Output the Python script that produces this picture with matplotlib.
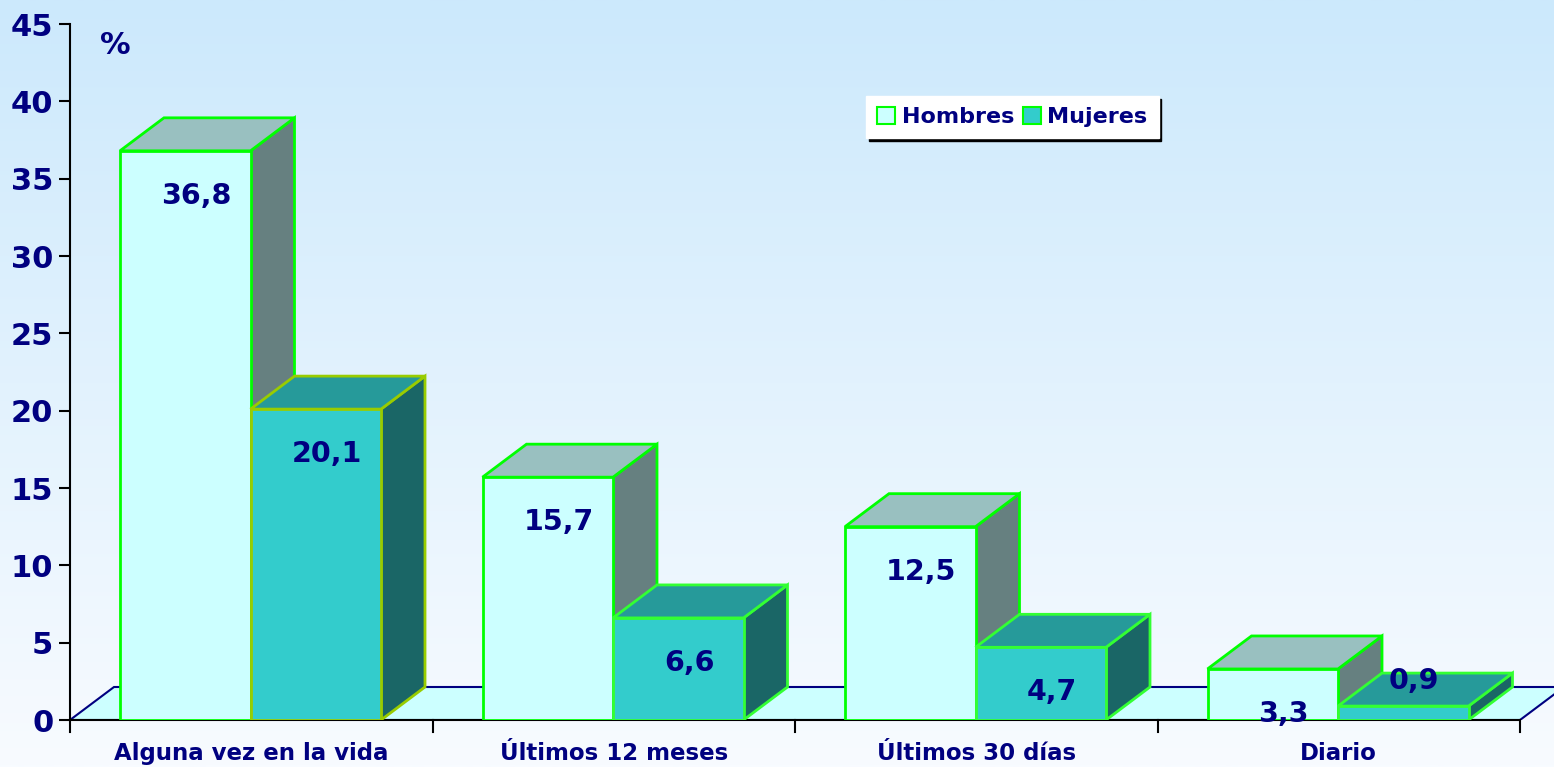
import numpy as np
import matplotlib
matplotlib.use("Agg")
import matplotlib.pyplot as plt
from matplotlib.patches import Polygon, Rectangle

categories = ["Alguna vez en la vida", "Últimos 12 meses", "Últimos 30 días", "Diario"]
series_names = ["Hombres", "Mujeres"]
hombres = [36.8, 15.7, 12.5, 3.3]
mujeres = [20.1, 6.6, 4.7, 0.9]
yticks = [0, 5, 10, 15, 20, 25, 30, 35, 40, 45]

NAVY = "#000080"
front_cols = ["#CCFFFF", "#33CCCC"]
top_cols = ["#99C0C0", "#269A9A"]
side_cols = ["#668080", "#1A6666"]

W, H = 1554, 767
fig = plt.figure(figsize=(W / 100, H / 100), dpi=100)

# background gradient
bg = fig.add_axes([0, 0, 1, 1], zorder=-10)
top = np.array([204, 233, 252]) / 255
bot = np.array([248, 251, 255]) / 255
t = np.linspace(0, 1, 256)[:, None]
grad = top[None, :] * (1 - t) + bot[None, :] * t
bg.imshow(grad[:, None, :], aspect="auto", extent=[0, 1, 0, 1])
bg.axis("off")

x0px, x1px, y0px, y1px = 70, 1554, 720, 24
cat_px = 362.5
ax = fig.add_axes([x0px / W, 1 - y0px / H, (x1px - x0px) / W, (y0px - y1px) / H])
ax.set_facecolor("none")
ax.set_xlim(0, (x1px - x0px) / cat_px)
ax.set_ylim(0, 45)

dx = 44 / cat_px
dy = 33 / ((y0px - y1px) / 45)
gap = 50 / cat_px
bw = 130.5 / cat_px
n = len(categories)

# floor
floor = Polygon([(0, 0), (dx, dy), (n + dx, dy), (n, 0)], closed=True,
                facecolor="#CCFFFF", edgecolor=NAVY, lw=1.5, zorder=1)
ax.add_patch(floor)
ax.plot([0, n], [0, 0], color="black", lw=1.5, zorder=2, clip_on=False)


def bar3d(x, h, i, ec):
    z = 3
    ax.add_patch(Polygon([(x + bw, 0), (x + bw + dx, dy), (x + bw + dx, h + dy), (x + bw, h)],
                         closed=True, fc=side_cols[i], ec=ec, lw=2, zorder=z))
    ax.add_patch(Polygon([(x, h), (x + dx, h + dy), (x + bw + dx, h + dy), (x + bw, h)],
                         closed=True, fc=top_cols[i], ec=ec, lw=2, zorder=z))
    ax.add_patch(Rectangle((x, 0), bw, h, fc=front_cols[i], ec=ec, lw=2, zorder=z))


for k in range(n):
    xh = k + gap
    xm = xh + bw
    bar3d(xh, hombres[k], 0, "#00FF00")
    bar3d(xm, mujeres[k], 1, "#99CC00" if k == 0 else "#33FF33")
    for xs, v in ((xh, hombres[k]), (xm, mujeres[k])):
        ly = v - 2.9 if v > 2 else v + 1.6
        ax.text(xs + bw / 2 + 0.03, ly, f"{v:.1f}".replace(".", ","),
                ha="center", va="center", color=NAVY, fontsize=20.5,
                fontweight="bold", zorder=10)

# axes styling
for s in ["top", "right", "bottom"]:
    ax.spines[s].set_visible(False)
ax.spines["left"].set_color("black")
ax.spines["left"].set_linewidth(1.5)
ax.set_yticks(yticks)
ax.set_yticklabels([str(v) for v in yticks])
ax.tick_params(axis="y", length=8, width=1.5, color="black", labelcolor=NAVY,
               labelsize=22, pad=4)
for lab in ax.get_yticklabels():
    lab.set_fontweight("bold")

ax.set_xticks([])
for k in range(n + 1):
    ax.plot([k, k], [0, -0.75], color="black", lw=1.5, clip_on=False, zorder=2)
for k, c in enumerate(categories):
    ax.text(k + 0.5, -1.45, c, ha="center", va="top", color=NAVY, fontsize=16.5,
            fontweight="bold", clip_on=False)

fig.text(115 / W, 1 - 45 / H, "%", ha="center", va="center", color=NAVY,
         fontsize=22, fontweight="bold")

# legend
handles = [Rectangle((0, 0), 1, 1, fc=front_cols[i], ec="#00FF00", lw=1.5) for i in range(2)]
leg = fig.legend(handles, series_names, loc="upper left",
                 bbox_to_anchor=(866 / W, 1 - 96 / H), ncol=2, frameon=True,
                 fancybox=False, shadow={"color": "black", "alpha": 1},
                 prop={"weight": "bold", "size": 16}, handlelength=0.8,
                 handleheight=0.8, handletextpad=0.3, columnspacing=0.4,
                 borderpad=0.5, borderaxespad=0)
leg.get_frame().set_edgecolor("white")
leg.get_frame().set_facecolor("white")
for txt in leg.get_texts():
    txt.set_color(NAVY)

fig.savefig("out.png", dpi=100)
